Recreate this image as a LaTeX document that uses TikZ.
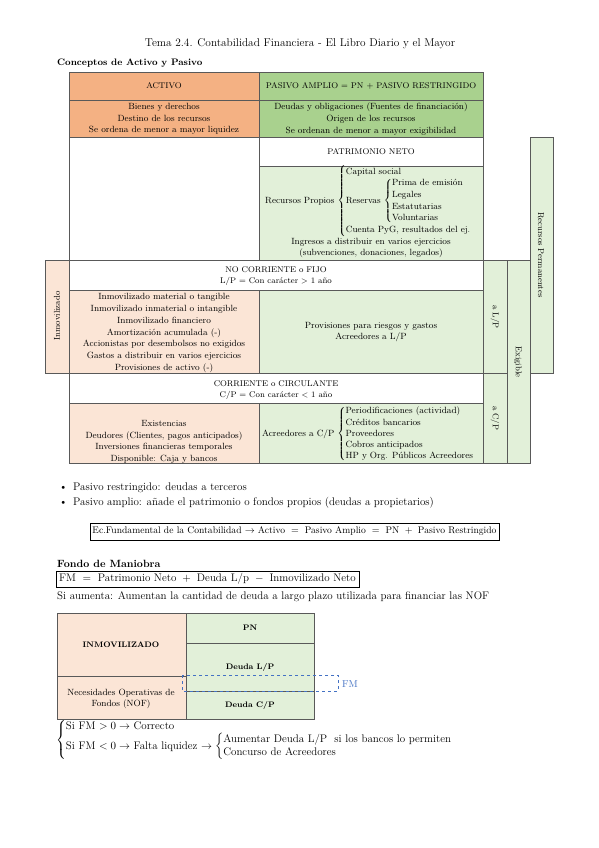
\documentclass[tikz,border=0pt]{standalone}
\usepackage{amsmath}
\usepackage{amssymb}
\usepackage{xcolor}
\usepackage{tikz}
\usetikzlibrary{positioning,calc}
\definecolor{orH}{HTML}{F4B183}
\definecolor{grH}{HTML}{A9D18E}
\definecolor{orL}{HTML}{FBE5D6}
\definecolor{grL}{HTML}{E2F0D9}
\definecolor{fmblue}{HTML}{4472C4}
\definecolor{rulec}{HTML}{595959}
\newcommand{\fsz}[2]{\fontsize{#1}{#2}\selectfont}

\begin{document}
\begin{tikzpicture}[
		x=1pt,y=-1pt,
		cell/.style={draw=rulec,line width=0.6pt},
		txt/.style={font=\fsz{9}{11.7},align=center,inner sep=0pt},
		head/.style={font=\fsz{8.3}{11},align=center,inner sep=0pt},
		vert/.style={font=\fsz{8.5}{11},inner sep=0pt},
		body/.style={font=\fsz{11}{15},inner sep=0pt,anchor=base west},
		tbold/.style={font=\bfseries\fsz{8}{11},inner sep=0pt},
		]
		\useasboundingbox[fill=white] (0,0) rectangle (599,848);
		
		\node[font=\fsz{11.3}{13}] (title) at (300,44) {Tema 2.4. Contabilidad Financiera - El Libro Diario y el Mayor};
		\node[font=\bfseries\fsz{9.4}{12},anchor=west,inner sep=0pt] (conceptos) at (57,63) {Conceptos de Activo y Pasivo};
		
		% cuadro de activo y pasivo
		\foreach \xa/\ya/\xb/\yb/\c in {69/72/259/100/orH,259/72/483/100/grH,69/100/259/137/orH,259/100/483/137/grH,
			69/137/259/260/white,259/137/483/166/white,259/166/483/260/grL,45/260/69/373/orL,
			69/260/483/290/white,69/290/259/373/orL,259/290/483/373/grL,69/373/483/403/white,
			69/403/259/463/orL,259/403/483/463/grL,483/260/507/373/grL,483/373/507/463/grL,
			507/260/530/463/grL,530/137/553/373/grL}
		{\filldraw[cell,fill=\c] (\xa,\ya) rectangle (\xb,\yb);}
		
		\node[head] (activo) at (164,86) {ACTIVO};
		\node[head] (pasivo) at (371,86) {PASIVO AMPLIO = PN + PASIVO RESTRINGIDO};
		\node[txt] (activoDef) at (164,119) {Bienes y derechos\\Destino de los recursos\\Se ordena de menor a mayor liquidez};
		\node[txt] (pasivoDef) at (371,119) {Deudas y obligaciones (Fuentes de financiación)\\Origen de los recursos\\Se ordenan de menor a mayor exigibilidad};
		\node[head] (patrimonio) at (371,152) {PATRIMONIO NETO};
		\node[txt,anchor=west] (propios) at (265,201) {Recursos Propios $\left\{\begin{tabular}{@{}l@{}}Capital social\\
				Reservas $\left\{\begin{tabular}{@{}l@{}}Prima de emisión\\Legales\\Estatutarias\\Voluntarias\end{tabular}\right.$\\
				Cuenta PyG, resultados del ej.\end{tabular}\right.$};
		\node[txt] (ingresos) at (371,248) {Ingresos a distribuir en varios ejercicios\\(subvenciones, donaciones, legados)};
		
		\node[head] (noCorriente) at (276,276) {NO CORRIENTE o FIJO\\L/P = Con carácter $>$ 1 año};
		\node[txt] (inmovList) at (164,333) {Inmovilizado material o tangible\\Inmovilizado inmaterial o intangible\\
			Inmovilizado financiero\\Amortización acumulada (-)\\Accionistas por desembolsos no exigidos\\
			Gastos a distribuir en varios ejercicios\\Provisiones de activo (-)};
		\node[txt] (provisiones) at (371,332) {Provisiones para riesgos y gastos\\Acreedores a L/P};
		
		\node[head] (corriente) at (276,390) {CORRIENTE o CIRCULANTE\\C/P = Con carácter $<$ 1 año};
		\node[txt] (circList) at (164,442) {Existencias\\Deudores (Clientes, pagos anticipados)\\
			Inversiones financieras temporales\\Disponible: Caja y bancos};
		\node[txt,anchor=west,font=\fsz{9}{11.2}] (acreedCP) at (262,434) {Acreedores a C/P $\left\{\begin{tabular}{@{}l@{}}Periodificaciones (actividad)\\
				Créditos bancarios\\Proveedores\\Cobros anticipados\\HP y Org. Públicos Acreedores\end{tabular}\right.$};
		
		\node[vert,rotate=90] (inmovTag) at (57,316) {Inmovilizado};
		\node[vert,rotate=-90] (lpTag) at (495,317) {a L/P};
		\node[vert,rotate=-90] (cpTag) at (495,418) {a C/P};
		\node[vert,rotate=-90] (exigTag) at (518,362) {Exigible};
		\node[vert,rotate=-90] (permTag) at (541,255) {Recursos Permanentes};
		
		% notas
		\node[body] (dot1) at (59,490) {\textbullet};
		\node[body] (restr) at (73,490) {Pasivo restringido: deudas a terceros};
		\node[body] (dot2) at (59,505) {\textbullet};
		\node[body] (ampl) at (73,505) {Pasivo amplio: añade el patrimonio o fondos propios (deudas a propietarios)};
		\node[draw,line width=0.6pt,font=\fsz{9.6}{12},minimum width=409,minimum height=17,inner sep=1pt]
		(ecFund) at (294.5,531.5) {Ec.Fundamental de la Contabilidad $\rightarrow$ Activo ${}={}$ Pasivo Amplio ${}={}$ PN ${}+{}$ Pasivo Restringido};
		
		% fondo de maniobra
		\node[font=\bfseries\fsz{10.5}{13},anchor=base west,inner sep=0pt] (fondo) at (57,567) {Fondo de Maniobra};
		\node[draw,line width=0.5pt,font=\fsz{11}{13},minimum width=303,minimum height=16,inner sep=1pt]
		(fmDef) at (207.5,579) {FM ${}={}$ Patrimonio Neto ${}+{}$ Deuda L/p ${}-{}$ Inmovilizado Neto};
		\node[body] (aumenta) at (57,599) {Si aumenta: Aumentan la cantidad de deuda a largo plazo utilizada para financiar las NOF};
		
		\foreach \xa/\ya/\xb/\yb in {57/613/186/676,57/676/186/719,186/613/314/643,186/643/314/691,186/691/314/719}
		{\filldraw[cell,fill=\ifdim\xa pt<100pt orL\else grL\fi] (\xa,\ya) rectangle (\xb,\yb);}
		
		\node[tbold] (fmInmov) at (121,645) {INMOVILIZADO};
		\node[txt] (fmNof) at (121,699) {Necesidades Operativas de\\Fondos (NOF)};
		\node[tbold] (fmPn) at (250,628) {PN};
		\node[tbold] (fmLp) at (250,667) {Deuda L/P};
		\node[tbold] (fmCp) at (250,705) {Deuda C/P};
		\draw[fmblue,dashed,line width=0.8pt] (182,675) rectangle (338,691);
		\node[font=\fsz{10}{12},text=fmblue,anchor=west,inner sep=0pt] (fmTag) at (342,684) {FM};
		
		\node[font=\fsz{11}{13},anchor=west,inner sep=0pt] (reglas) at (56,740) {$\left\{\begin{tabular}{@{}l@{}}Si FM $>0\rightarrow$ Correcto\\
				Si FM $<0\rightarrow$ Falta liquidez $\rightarrow\left\{\begin{tabular}{@{}l@{}}Aumentar Deuda L/P\ \ si los bancos lo permiten\\
					Concurso de Acreedores\end{tabular}\right.$\end{tabular}\right.$};
\end{tikzpicture}
\end{document}
